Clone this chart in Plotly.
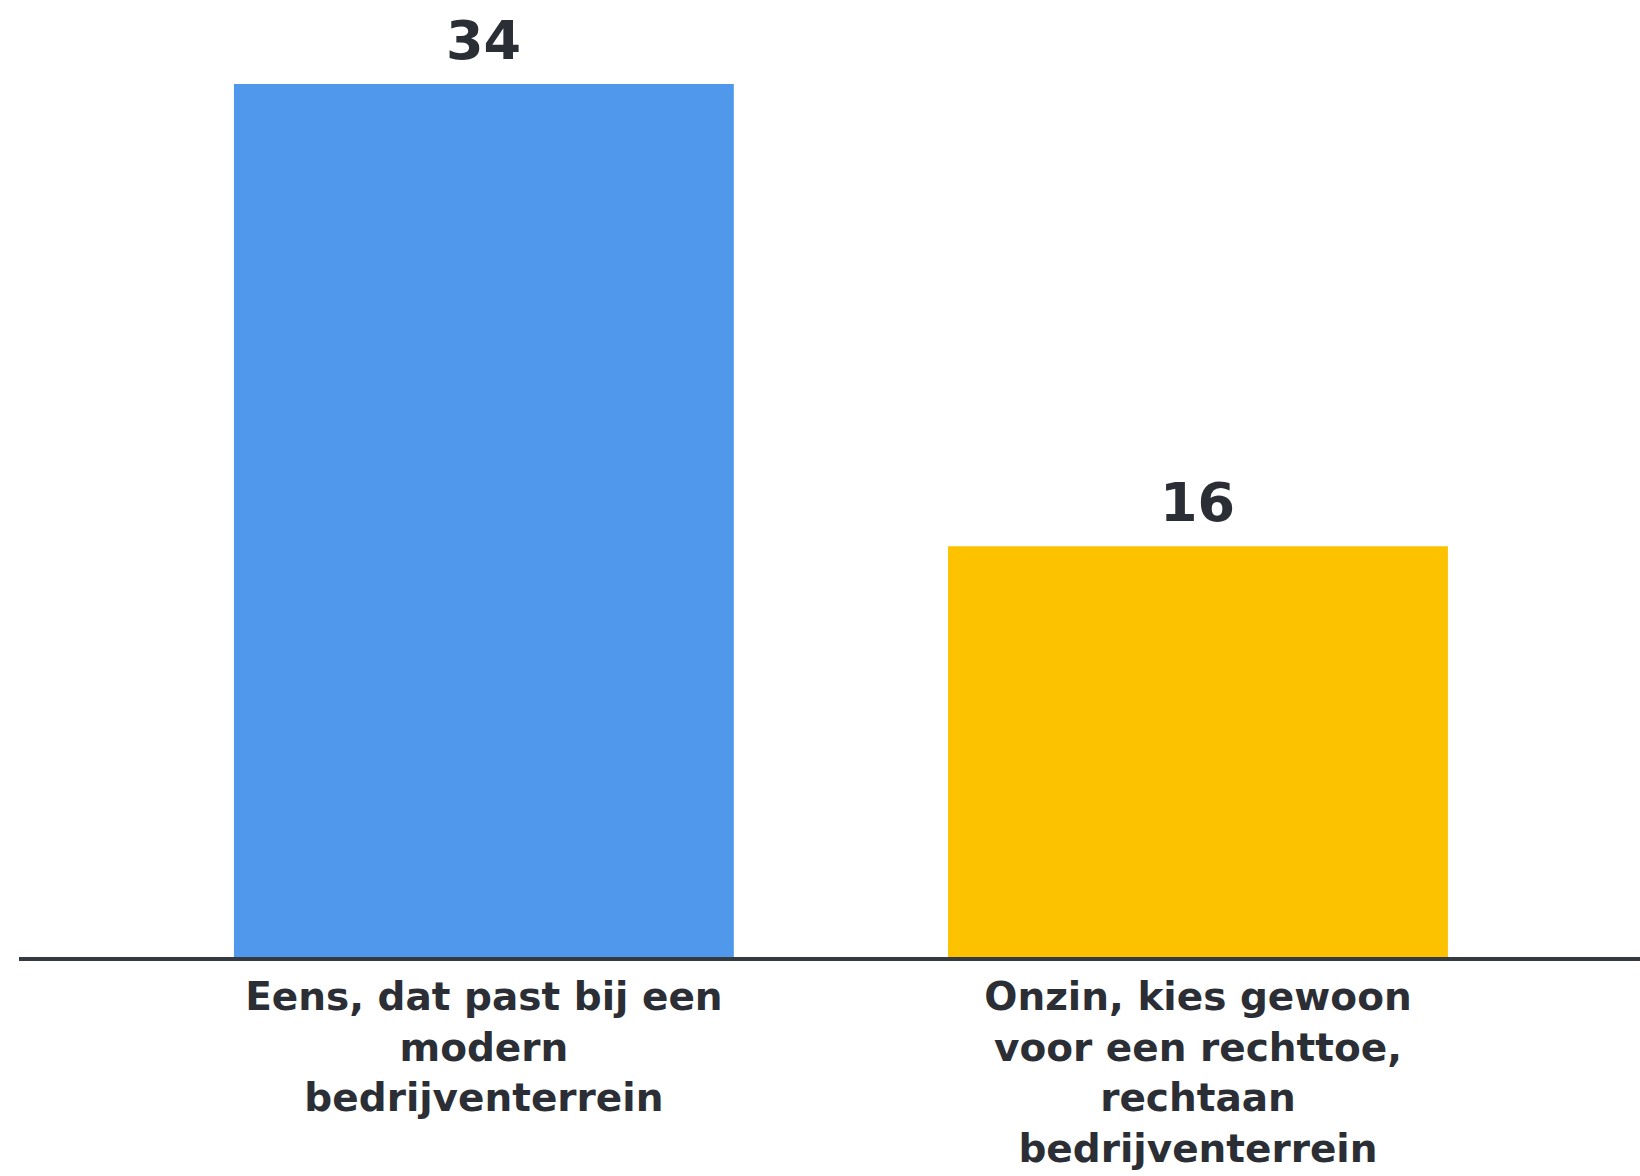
import plotly.graph_objects as go

categories = [
    "Eens, dat past bij een<br>modern<br>bedrijventerrein",
    "Onzin, kies gewoon<br>voor een rechttoe,<br>rechtaan<br>bedrijventerrein",
]
values = [34, 16]
colors = ["#4F98EC", "#FCC200"]

W, H = 1640, 1176
FONT = "DejaVu Sans"
TXT = "#2B2E34"

fig = go.Figure()
fig.add_trace(go.Bar(
    x=[0, 1], y=values, width=0.70,
    marker=dict(color=colors, line=dict(width=0)),
    hoverinfo="skip",
))
for i, v in enumerate(values):
    fig.add_annotation(
        x=i, y=v, text=str(v), showarrow=False,
        yanchor="bottom", yshift=10,
        font=dict(family=FONT, size=54, color=TXT, weight="bold"),
    )

fig.update_layout(
    width=W, height=H,
    margin=dict(l=19, r=0, t=8, b=219),
    paper_bgcolor="white", plot_bgcolor="white",
    showlegend=False,
    font=dict(family=FONT, color=TXT),
)
fig.update_xaxes(
    range=[-0.651, 1.619],
    tickmode="array", tickvals=[0, 1], ticktext=categories,
    tickfont=dict(family=FONT, size=39, color=TXT, weight="bold"),
    ticklabelstandoff=2,
    showline=True, linecolor="#343A40", linewidth=4,
    showgrid=False, zeroline=False, ticks="",
    tickangle=0,
)
fig.update_yaxes(
    range=[0, 36.96], visible=False, showgrid=False, zeroline=False,
)

fig.write_html(
    "out.html",
    config={"displayModeBar": False},
    post_script="document.body.style.margin='0';document.body.style.overflow='hidden';",
)
